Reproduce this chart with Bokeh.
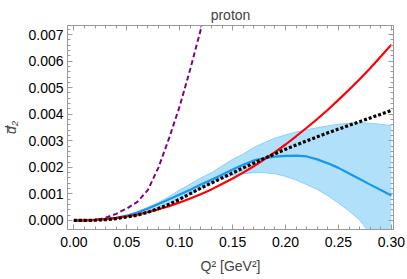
from bokeh.plotting import figure
from bokeh.models import LinearAxis, FixedTicker, Range1d, NumeralTickFormatter, CustomJSTickFormatter
from bokeh.embed import file_html
from bokeh.resources import INLINE

# data (Q^2 in steps of 0.01)
q2 = [0.00, 0.01, 0.02, 0.03, 0.04, 0.05, 0.06, 0.07, 0.08, 0.09, 0.10,
      0.11, 0.12, 0.13, 0.14, 0.15, 0.16, 0.17, 0.18, 0.19, 0.20,
      0.21, 0.22, 0.23, 0.24, 0.25, 0.26, 0.27, 0.28, 0.29, 0.30]
red_vals = [0.0, 0.000005, 0.00002, 0.00005, 0.00009, 0.00015, 0.00022, 0.00032, 0.00042, 0.00054, 0.00068,
            0.00083, 0.00099, 0.00117, 0.00137, 0.00158, 0.0018, 0.00204, 0.0023, 0.00257, 0.00286,
            0.00317, 0.00349, 0.00382, 0.00417, 0.00454, 0.00492, 0.00532, 0.00573, 0.00617, 0.00662]
black_vals = [0.0, 0.0, 0.00001, 0.00003, 0.00007, 0.00013, 0.0002, 0.00031, 0.00045, 0.00061, 0.0008,
              0.00101, 0.00122, 0.00141, 0.0016, 0.00179, 0.00198, 0.00216, 0.00234, 0.00251, 0.00268,
              0.00284, 0.003, 0.00315, 0.0033, 0.00344, 0.00358, 0.00372, 0.00386, 0.004, 0.00414]
blue_vals = [0.0, 0.0, 0.00002, 0.00005, 0.0001, 0.00018, 0.0003, 0.00045, 0.00062, 0.0008, 0.00098,
             0.00116, 0.00135, 0.00153, 0.00172, 0.00192, 0.0021, 0.00226, 0.00235, 0.0024, 0.00243,
             0.00244, 0.00241, 0.0023, 0.00215, 0.00198, 0.00177, 0.00156, 0.00135, 0.00115, 0.00094]
band_upper = [0.0, 0.0, 0.00002, 0.00005, 0.00011, 0.0002, 0.00033, 0.0005, 0.00068, 0.0009, 0.00115,
              0.00137, 0.0016, 0.0018, 0.00205, 0.0023, 0.0025, 0.00275, 0.00293, 0.0031, 0.00322,
              0.00333, 0.00342, 0.00349, 0.00356, 0.00362, 0.00366, 0.00368, 0.00366, 0.00362, 0.00357]
band_lower = [0.0, 0.0, 0.00001, 0.00004, 0.00009, 0.00015, 0.00025, 0.00036, 0.0005, 0.00065, 0.0008,
              0.001, 0.0012, 0.0014, 0.0016, 0.0017, 0.00176, 0.0018, 0.0018, 0.00176, 0.00166,
              0.00152, 0.00135, 0.00117, 0.00093, 0.00066, 0.00036, 0.00002, -0.0005, -0.0009, -0.0014]

purple_x = [0.00, 0.01, 0.02, 0.03, 0.04, 0.05, 0.06, 0.07, 0.08, 0.09, 0.10, 0.11, 0.12, 0.125]
purple_vals = [0.0, 0.0, 0.00002, 0.0001, 0.00025, 0.00045, 0.0007, 0.00115, 0.002, 0.0031, 0.0043, 0.0057, 0.0072, 0.0081]

x_ticks = [0.00, 0.05, 0.10, 0.15, 0.20, 0.25, 0.30]
x_minor = [round(i * 0.01, 2) for i in range(0, 31)]
y_ticks = [0.000, 0.001, 0.002, 0.003, 0.004, 0.005, 0.006, 0.007]
y_minor = [round(i * 0.0002, 4) for i in range(0, 37)]

FONT = "Liberation Sans"
FRAME = "#9a9a9a"

p = figure(width=407, height=279, output_backend="svg", toolbar_location=None,
           x_range=Range1d(-0.006, 0.302), y_range=Range1d(-0.00034, 0.00734),
           title="proton", x_axis_type=None, y_axis_type=None,
           min_border_left=67, min_border_right=14, min_border_top=25, min_border_bottom=50)
p.title.align = "center"
p.title.text_font = FONT
p.title.text_font_size = "14px"
p.title.text_font_style = "normal"
p.title.standoff = 6
p.xgrid.visible = False
p.ygrid.visible = False
p.outline_line_color = FRAME
p.background_fill_color = "white"
p.border_fill_color = "white"

xt = FixedTicker(ticks=x_ticks, minor_ticks=x_minor)
yt = FixedTicker(ticks=y_ticks, minor_ticks=y_minor)


def style(ax):
    ax.axis_line_color = FRAME
    ax.major_tick_line_color = FRAME
    ax.minor_tick_line_color = FRAME
    ax.major_tick_in = 5
    ax.major_tick_out = 0
    ax.minor_tick_in = 3
    ax.minor_tick_out = 0
    ax.major_label_text_font = FONT
    ax.major_label_text_font_size = "14px"
    ax.major_label_text_color = "black"
    ax.axis_label_text_font = FONT
    ax.axis_label_text_font_size = "14px"


xb = LinearAxis(ticker=xt, formatter=NumeralTickFormatter(format="0.00"),
                axis_label="Q² [GeV²]")
style(xb)
xb.major_label_standoff = 7
xb.axis_label_standoff = 8
xb.axis_label_text_font_style = "normal"
p.add_layout(xb, "below")

yl = LinearAxis(ticker=yt, formatter=NumeralTickFormatter(format="0.000"),
                axis_label="d\u0305\u2082")
style(yl)
yl.major_label_standoff = 4
yl.axis_label_standoff = 6
yl.axis_label_text_font_style = "italic"
p.add_layout(yl, "left")

blank = CustomJSTickFormatter(code="return '';")
xa = LinearAxis(ticker=xt, formatter=blank)
style(xa)
xa.major_label_standoff = 0
p.add_layout(xa, "above")
yr = LinearAxis(ticker=yt, formatter=blank)
style(yr)
yr.major_label_standoff = 0
p.add_layout(yr, "right")

# band
p.varea(x=q2, y1=band_lower, y2=band_upper, fill_color="#b0e0fa", fill_alpha=1.0)
p.line(q2, band_upper, line_color="#8fd0f5", line_width=1)
p.line(q2, band_lower, line_color="#8fd0f5", line_width=1)
# curves
p.line(purple_x, purple_vals, line_color="#800080", line_width=2, line_dash="5 3")
p.line(q2, blue_vals, line_color="#1898ec", line_width=2.2)
p.line(q2, red_vals, line_color="#ff0000", line_width=2.2)
p.line(q2, black_vals, line_color="black", line_width=3.2, line_dash="3 2")

open("out.html", "w").write(file_html(p, INLINE))
